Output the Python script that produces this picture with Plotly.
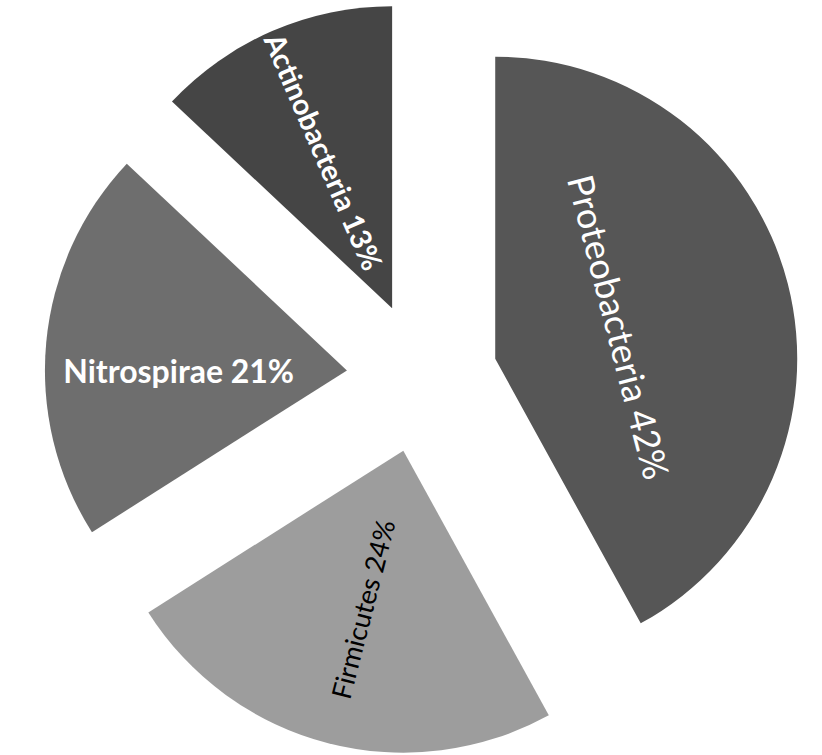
import plotly.graph_objects as go

# Data
labels = ["Proteobacteria", "Firmicutes", "Nitrospirae", "Actinobacteria"]
values = [42, 24, 21, 13]

# Styling
slice_colors = ["#565656", "#9d9d9d", "#6e6e6e", "#454545"]
text_colors = ["white", "black", "white", "white"]
text_sizes = [36, 27, 32, 30]
bold = [False, False, True, True]
# which labels are written along the arc (tangential) vs. along the radius
tangential = [True, False, False, False]

PULL = 0.25
DOMAIN = dict(x=[0.027, 1.0], y=[0.0, 1.0])


def label_text(i):
    t = f"{labels[i]} {values[i]}%"
    return f"<b>{t}</b>" if bold[i] else t


text_tan = [label_text(i) if tangential[i] else "" for i in range(len(labels))]
text_rad = [label_text(i) if not tangential[i] else "" for i in range(len(labels))]

fig = go.Figure()

# Main pie: draws the slices, labels written tangentially
fig.add_trace(go.Pie(
    labels=labels,
    values=values,
    text=text_tan,
    textinfo="text",
    textposition="inside",
    insidetextorientation="tangential",
    insidetextfont=dict(family="Lato", color=text_colors, size=text_sizes),
    marker=dict(colors=slice_colors, line=dict(width=0)),
    pull=[PULL] * len(values),
    sort=False,
    direction="clockwise",
    rotation=0,
    domain=DOMAIN,
    hovertemplate="%{label}: %{value}%<extra></extra>",
))

# Overlay with the same geometry: only carries the radially written labels
fig.add_trace(go.Pie(
    labels=labels,
    values=values,
    text=text_rad,
    textinfo="text",
    textposition="inside",
    insidetextorientation="radial",
    insidetextfont=dict(family="Lato", color=text_colors, size=text_sizes),
    marker=dict(colors=["rgba(0,0,0,0)"] * len(values), line=dict(width=0)),
    pull=[PULL] * len(values),
    sort=False,
    direction="clockwise",
    rotation=0,
    domain=DOMAIN,
    hoverinfo="skip",
))

fig.update_layout(
    width=822,
    height=755,
    margin=dict(l=0, r=0, t=0, b=0),
    showlegend=False,
    paper_bgcolor="white",
    plot_bgcolor="white",
)

fig.write_html("out.html")
